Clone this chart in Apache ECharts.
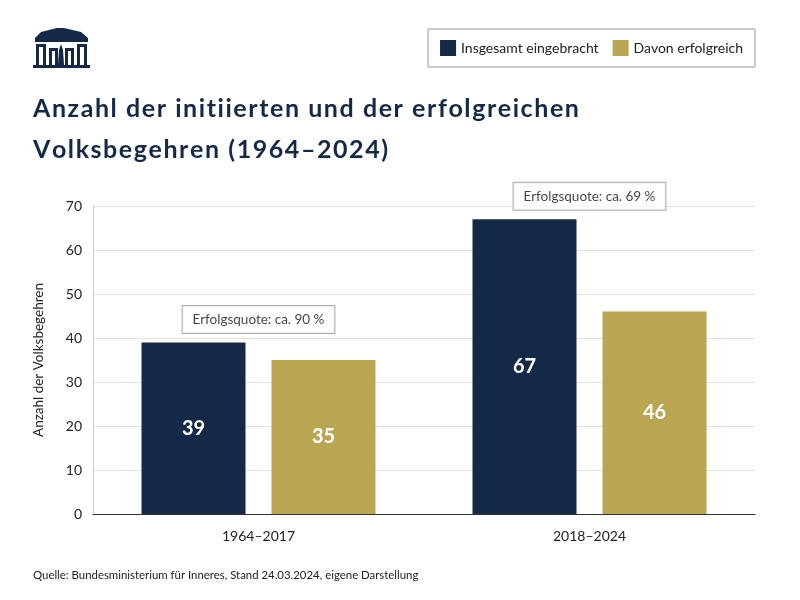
<!DOCTYPE html>
<html><head><meta charset="utf-8">
<script src="https://cdn.jsdelivr.net/npm/echarts@6/dist/echarts.min.js"></script>
<style>html,body{margin:0;padding:0;background:#fff}#c{width:800px;height:600px}</style>
</head><body><div id="c"></div>
<script>
const categories = ['1964–2017', '2018–2024'];
const totalValues = [39, 67];
const successValues = [35, 46];
const quoteLabels = ['Erfolgsquote: ca. 90 %', 'Erfolgsquote: ca. 69 %'];
const yTicks = [0, 10, 20, 30, 40, 50, 60, 70];
const titleLines = ['Anzahl der initiierten und der erfolgreichen', 'Volksbegehren (1964–2024)'];

const navy = '#142947';
const gold = '#b9a552';
const F = 'Lato, "Noto Sans", sans-serif';
const spaced = s => Array.from(s).join('\u200A');

const chart = echarts.init(document.getElementById('c'));
chart.setOption({
  backgroundColor: '#fff',
  animation: false,
  textStyle: { fontFamily: F },
  title: {
    text: titleLines.map(spaced).join('\n'),
    left: 28, top: 83,
    textStyle: { fontFamily: F, fontSize: 25, fontWeight: 'bold', color: navy, lineHeight: 41 }
  },
  legend: {
    data: ['Insgesamt eingebracht', 'Davon erfolgreich'],
    right: 45, top: 29,
    orient: 'horizontal',
    borderColor: '#999', borderWidth: 1,
    padding: [11, 12, 11, 12],
    itemWidth: 16, itemHeight: 16, itemGap: 14,
    icon: 'rect',
    textStyle: { fontFamily: F, fontSize: 14, color: '#222' }
  },
  grid: { left: 93, right: 45, top: 206, bottom: 86, containLabel: false },
  xAxis: {
    type: 'category', data: categories,
    axisLine: { lineStyle: { color: '#333', width: 1 } },
    axisTick: { show: false },
    axisLabel: { fontFamily: F, fontSize: 14, color: '#222', margin: 15 }
  },
  yAxis: {
    type: 'value', min: yTicks[0], max: yTicks[yTicks.length - 1], interval: 10,
    name: 'Anzahl der Volksbegehren', nameLocation: 'middle', nameGap: 47,
    nameTextStyle: { fontFamily: F, fontSize: 13.5, color: '#222' },
    axisLine: { show: true, lineStyle: { color: '#ccc' } },
    axisTick: { show: false },
    splitLine: { lineStyle: { color: '#e2e2e2' } },
    axisLabel: { fontFamily: F, fontSize: 14, color: '#222', margin: 11 }
  },
  series: [
    {
      name: 'Insgesamt eingebracht', type: 'bar', data: totalValues,
      itemStyle: { color: navy },
      barWidth: 104, barGap: '25%',
      label: { show: true, position: 'inside', color: '#fff', fontSize: 20, fontWeight: 'bold', fontFamily: F }
    },
    {
      name: 'Davon erfolgreich', type: 'bar', data: successValues,
      itemStyle: { color: gold },
      barWidth: 104, barGap: '25%',
      label: { show: true, position: 'inside', color: '#fff', fontSize: 20, fontWeight: 'bold', fontFamily: F }
    },
    {
      name: 'quote', type: 'scatter', silent: true, symbolSize: 0,
      data: categories.map((c, i) => ({ value: [c, totalValues[i]], name: quoteLabels[i] })),
      label: {
        show: true, position: 'inside', offset: [0, -23],
        backgroundColor: '#fff', borderColor: '#999', borderWidth: 1,
        padding: [7, 10, 6, 10],
        color: '#111', fontSize: 13.5, fontFamily: F,
        formatter: p => p.name
      }
    }
  ],
  graphic: [
    { type: 'text', left: 33, top: 570, style: { text: 'Quelle: Bundesministerium für Inneres, Stand 24.03.2024, eigene Darstellung', fontFamily: F, fontSize: 11.4, fill: '#222' } },
    { type: 'group', left: 33, top: 28, children: [
      { type: 'polygon', shape: { points: [[2,10],[8,4],[24,0],[31,0],[48,4],[55,10],[55,14],[2,14]] }, style: { fill: navy } },
      { type: 'rect', shape: { x: 3, y: 16, width: 10, height: 21 }, style: { fill: navy } },
      { type: 'rect', shape: { x: 44, y: 16, width: 10, height: 21 }, style: { fill: navy } },
      { type: 'rect', shape: { x: 16, y: 20, width: 9, height: 17 }, style: { fill: navy } },
      { type: 'rect', shape: { x: 32, y: 20, width: 9, height: 17 }, style: { fill: navy } },
      { type: 'rect', shape: { x: 6, y: 19, width: 4, height: 18 }, style: { fill: '#fff' } },
      { type: 'rect', shape: { x: 47, y: 19, width: 4, height: 18 }, style: { fill: '#fff' } },
      { type: 'rect', shape: { x: 19, y: 23, width: 3, height: 14 }, style: { fill: '#fff' } },
      { type: 'rect', shape: { x: 35, y: 23, width: 3, height: 14 }, style: { fill: '#fff' } },
      { type: 'polygon', shape: { points: [[25,37],[26,22],[28,16],[30,22],[31,37]] }, style: { fill: navy } },
      { type: 'rect', shape: { x: 0, y: 37, width: 57, height: 3 }, style: { fill: navy } }
    ] }
  ]
});
</script></body></html>
